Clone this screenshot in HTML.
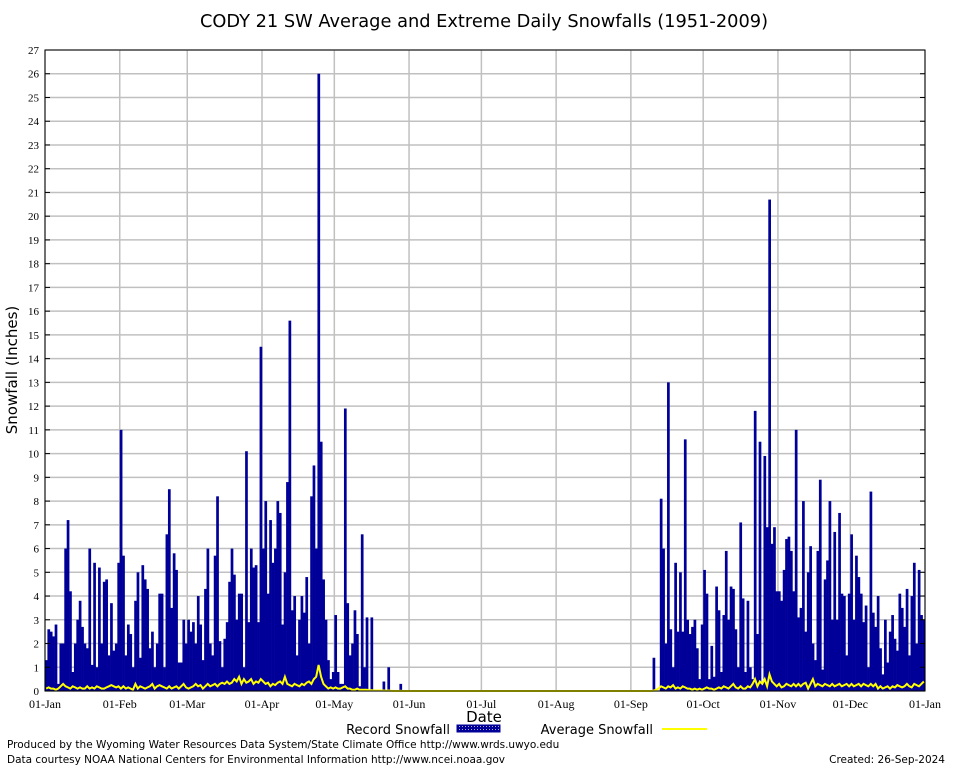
<!DOCTYPE html>
<html><head><meta charset="utf-8"><style>
html,body{margin:0;padding:0;background:#fff;}
svg{display:block;}
.sans{font-family:"DejaVu Sans","Liberation Sans",sans-serif;}
.serif{font-family:"Liberation Serif",serif;}
</style></head><body>
<svg id="chart" width="954" height="768" viewBox="0 0 954 768">
<defs><pattern id="hatch" width="3" height="3" patternUnits="userSpaceOnUse"><rect width="3" height="3" fill="#000099"/><rect width="1" height="1" fill="#aab"/></pattern></defs>
<text x="484" y="27" text-anchor="middle" font-size="17.8" class="sans">CODY 21 SW Average and Extreme Daily Snowfalls (1951-2009)</text>
<g id="grid"></g>
<g id="bars"></g>
<polyline id="avgline" fill="none" stroke="#ffff00" stroke-width="2"/>
<rect x="45" y="50" width="880" height="641" fill="none" stroke="#000" stroke-width="1"/>
<g id="yticks"></g>
<g id="xticks"></g>
<text transform="translate(17,370) rotate(-90)" text-anchor="middle" font-size="15" class="sans">Snowfall (Inches)</text>
<text x="484" y="722" text-anchor="middle" font-size="15" class="sans">Date</text>
<g>
<text x="450" y="734" text-anchor="end" font-size="13" class="sans">Record Snowfall</text>
<rect x="457" y="725" width="43" height="7" fill="url(#hatch)" stroke="#000099"/>
<text x="653" y="734" text-anchor="end" font-size="13" class="sans">Average Snowfall</text>
<line x1="662" y1="729" x2="707" y2="729" stroke="#ffff00" stroke-width="2"/>
</g>
<text x="7" y="748" font-size="10.5" class="sans">Produced by the Wyoming Water Resources Data System/State Climate Office http://www.wrds.uwyo.edu</text>
<text x="7" y="763" font-size="10.5" class="sans">Data courtesy NOAA National Centers for Environmental Information http://www.ncei.noaa.gov</text>
<text x="945" y="763" text-anchor="end" font-size="10.5" class="sans">Created:  26-Sep-2024</text>
</svg>
<script>
const monthLabels=["01-Jan","01-Feb","01-Mar","01-Apr","01-May","01-Jun","01-Jul","01-Aug","01-Sep","01-Oct","01-Nov","01-Dec","01-Jan"];
const monthDays=[31,28,31,30,31,30,31,31,30,31,30,31];
const yTicks=[0,1,2,3,4,5,6,7,8,9,10,11,12,13,14,15,16,17,18,19,20,21,22,23,24,25,26,27];
const recJan=[1.3,2.6,2.5,2.3,2.8,0.3,2.0,2.0,6.0,7.2,4.2,0.8,2.0,3.0,3.8,2.7,2.0,1.8,6.0,1.1,5.4,1.0,5.2,2.0,4.6,4.7,1.5,3.7,1.7,2.0,5.4];
const recFeb=[11.0,5.7,1.5,2.8,2.4,1.0,3.8,5.0,1.4,5.3,4.7,4.3,1.8,2.5,1.0,2.0,4.1,4.1,1.0,6.6,8.5,3.5,5.8,5.1,1.2,1.2,3.0,2.0];
const recMar=[3.0,2.5,2.9,2.0,4.0,2.8,1.3,4.3,6.0,2.0,1.5,5.7,8.2,2.1,1.0,2.2,2.9,4.6,6.0,4.9,3.0,4.1,4.1,1.0,10.1,2.9,6.0,5.2,5.3,2.9,14.5];
const recApr=[6.0,8.0,4.1,7.2,5.4,6.0,8.0,7.5,2.8,5.0,8.8,15.6,3.4,4.0,1.5,3.0,4.0,3.3,4.8,2.0,8.2,9.5,6.0,26.0,10.5,4.7,3.0,1.3,0.5,0.8];
const recMay=[3.2,0.8,0.3,0.3,11.9,3.7,1.5,2.0,3.4,2.4,0.2,6.6,1.0,3.1,0,3.1,0,0,0,0,0.4,0,1.0,0,0,0,0,0.3,0,0,0];
const recJun=new Array(30).fill(0);
const recJul=new Array(31).fill(0);
const recAug=new Array(31).fill(0);
const recSep=[0,0,0,0,0,0,0,0,0,1.4,0,0,8.1,6.0,2.0,13.0,2.6,1.0,5.4,2.5,5.0,2.5,10.6,3.0,2.4,2.7,3.0,1.8,0.5,2.8];
const recOct=[5.1,4.1,0.5,1.9,0.6,4.4,3.4,0.8,3.2,5.9,3.0,4.4,4.3,2.6,1.0,7.1,3.9,0.8,3.8,1.0,0.5,11.8,2.4,10.5,0.3,9.9,6.9,20.7,6.2,6.9,4.2];
const recNov=[4.2,3.8,5.1,6.4,6.5,5.9,4.2,11.0,3.1,3.5,8.0,2.5,5.0,6.1,2.0,1.3,5.9,8.9,0.9,4.7,5.5,8.0,3.0,6.7,3.0,7.5,4.1,4.0,1.5,4.1];
const recDec=[6.6,3.0,5.7,4.8,4.1,2.9,3.6,1.0,8.4,3.3,2.7,4.0,1.8,0.7,3.0,1.2,2.5,3.2,2.2,1.7,4.1,3.5,2.7,4.3,1.5,4.0,5.4,2.0,5.1,3.2,3.0];
const avgJan=[.1,.15,.1,.1,.05,.1,.2,.3,.2,.15,.1,.2,.15,.1,.15,.1,.1,.2,.1,.15,.1,.2,.15,.1,.1,.15,.2,.25,.2,.15,.2];
const avgFeb=[.1,.2,.1,.15,.1,.05,.3,.1,.2,.15,.1,.15,.2,.3,.1,.2,.25,.2,.15,.1,.2,.1,.15,.2,.1,.2,.3,.15];
const avgMar=[.1,.15,.2,.3,.2,.25,.1,.2,.3,.2,.25,.3,.2,.3,.35,.3,.4,.3,.35,.5,.4,.6,.3,.5,.35,.4,.5,.3,.4,.35,.5];
const avgApr=[.4,.3,.35,.2,.3,.25,.35,.4,.3,.6,.3,.25,.2,.3,.25,.2,.3,.25,.35,.4,.3,.5,.6,1.1,.6,.3,.2,.1,.15,.1];
const avgMay=[.15,.1,.1,.15,.2,.1,.1,.05,.05,.1,.05,.05,.05,.05,.03,.03,.02,.02,.02,.02,.02,.01,.02,.01,0,0,0,.01,0,0,0];
const avgJun=new Array(30).fill(0);
const avgJul=new Array(31).fill(0);
const avgAug=new Array(31).fill(0);
const avgSep=[0,0,0,0,0,0,0,0,0,.02,.05,.1,.2,.15,.1,.2,.15,.25,.1,.15,.1,.2,.15,.1,.1,.05,.1,.05,.1,.05];
const avgOct=[.1,.15,.1,.1,.05,.1,.15,.1,.2,.15,.1,.2,.3,.15,.1,.2,.1,.1,.2,.15,.3,.5,.2,.4,.3,.5,.2,.7,.4,.3,.2];
const avgNov=[.3,.15,.2,.3,.25,.2,.3,.2,.3,.2,.3,.35,.1,.3,.5,.2,.3,.25,.2,.3,.25,.2,.3,.2,.25,.3,.2,.25,.3,.2];
const avgDec=[.3,.2,.25,.3,.2,.3,.25,.2,.3,.2,.3,.1,.2,.1,.15,.2,.1,.2,.15,.25,.2,.15,.2,.3,.2,.15,.3,.25,.2,.3,.4];

const record=[].concat(recJan,recFeb,recMar,recApr,recMay,recJun,recJul,recAug,recSep,recOct,recNov,recDec);
const average=[].concat(avgJan,avgFeb,avgMar,avgApr,avgMay,avgJun,avgJul,avgAug,avgSep,avgOct,avgNov,avgDec);
const NS="http://www.w3.org/2000/svg";
const L=45,R=925,T=50,B=691,YMAX=27,NDAYS=365;
const xs=d=>L+(R-L)*d/NDAYS;
const ys=v=>B-(B-T)*v/YMAX;
function mk(tag,attrs,parent){const e=document.createElementNS(NS,tag);for(const k in attrs)e.setAttribute(k,attrs[k]);parent.appendChild(e);return e;}
const grid=document.getElementById('grid'),yt=document.getElementById('yticks'),xt=document.getElementById('xticks'),bars=document.getElementById('bars');
yTicks.forEach(v=>{
  const g=mk('line',{x1:L,x2:R,y1:ys(v),y2:ys(v),stroke:'#c0c0c0','stroke-width':1.5},grid);
  
  
  const t=mk('line',{x1:L,x2:L+5,y1:ys(v),y2:ys(v),stroke:'#000'},yt);
  
  
  const t2=mk('line',{x1:R-5,x2:R,y1:ys(v),y2:ys(v),stroke:'#000'},yt);
  
  
  const lb=mk('text',{x:L-6,y:ys(v)+4,'text-anchor':'end','font-size':11,class:'serif'},yt);
  lb.textContent=v;
  
  
});
let cum=0;
monthLabels.forEach((m,i)=>{
  const x=xs(cum);
  const g=mk('line',{x1:x,x2:x,y1:T,y2:B,stroke:'#c0c0c0','stroke-width':1.5},grid);
  
  
  const lb=mk('text',{x:x,y:708,'text-anchor':'middle','font-size':12,class:'serif'},xt);
  lb.textContent=m;
  
  
  if(i<monthDays.length)cum+=monthDays[i];
});
const w=(R-L)/NDAYS;
record.forEach((v,d)=>{
  if(v<=0)return;
  const r=mk('rect',{x:xs(d),y:ys(v),width:w+0.3,height:B-ys(v),fill:'#000099'},bars);
  
  
});
document.getElementById('avgline').setAttribute('points',average.map((v,d)=>xs(d+0.5).toFixed(1)+','+ys(v).toFixed(1)).join(' '));
</script>
</body></html>
